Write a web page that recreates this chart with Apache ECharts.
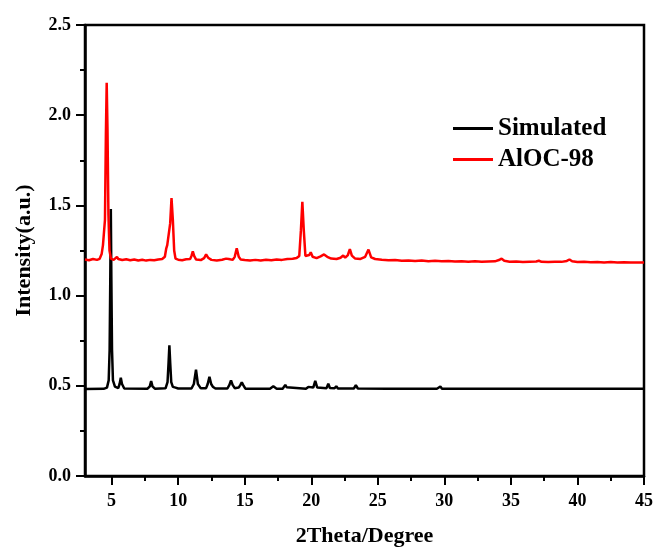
<!DOCTYPE html>
<html>
<head>
<meta charset="utf-8">
<title>XRD</title>
<script src="https://cdn.jsdelivr.net/npm/echarts@6/dist/echarts.min.js"></script>
<style>
  html, body { margin: 0; padding: 0; background: #fff; }
  #main { width: 657px; height: 552px; }
</style>
</head>
<body>
<div id="main"></div>
<script>
// x tick labels / minor ticks
let xMajor = [5, 10, 15, 20, 25, 30, 35, 40, 45];
let xMinor = [7.5, 12.5, 17.5, 22.5, 27.5, 32.5, 37.5, 42.5];
let seriesNames = ["Simulated", "AlOC-98"];

// Simulated pattern [2theta, intensity]
let simulated = [
  [3.0, 0.482], [4.4, 0.483], [4.65, 0.49], [4.78, 0.53], [4.85, 0.7], [4.9, 1.1], [4.94, 1.48],
  [4.98, 1.1], [5.03, 0.7], [5.1, 0.53], [5.25, 0.495], [5.5, 0.487], [5.6, 0.51], [5.69, 0.545],
  [5.78, 0.51], [5.95, 0.485], [7.7, 0.484], [7.87, 0.497], [7.97, 0.527], [8.07, 0.497],
  [8.25, 0.484], [9.05, 0.486], [9.2, 0.52], [9.28, 0.63], [9.34, 0.725], [9.4, 0.63],
  [9.48, 0.52], [9.6, 0.494], [9.8, 0.49], [10.0, 0.485], [11.0, 0.485], [11.18, 0.51],
  [11.34, 0.59], [11.48, 0.51], [11.7, 0.486], [12.1, 0.487], [12.22, 0.51], [12.35, 0.55],
  [12.48, 0.51], [12.6, 0.495], [12.8, 0.485], [13.7, 0.485], [13.85, 0.505], [13.97, 0.53],
  [14.09, 0.505], [14.25, 0.487], [14.55, 0.49], [14.68, 0.505], [14.78, 0.52], [14.88, 0.505],
  [15.05, 0.484], [16.9, 0.484], [17.05, 0.49], [17.15, 0.497], [17.25, 0.488], [17.4, 0.484],
  [17.85, 0.484], [17.97, 0.495], [18.05, 0.505], [18.15, 0.492], [18.3, 0.484], [19.6, 0.484],
  [19.78, 0.494], [19.88, 0.486], [20.15, 0.49], [20.3, 0.527], [20.45, 0.49], [20.6, 0.485],
  [21.15, 0.487], [21.28, 0.512], [21.4, 0.488], [21.75, 0.486], [21.88, 0.498], [22.0, 0.485],
  [23.2, 0.485], [23.35, 0.503], [23.5, 0.485], [25.7, 0.484], [25.8, 0.491], [25.9, 0.484],
  [27.5, 0.484], [29.2, 0.484], [29.32, 0.492], [29.44, 0.484], [29.58, 0.487], [29.7, 0.496],
  [29.82, 0.484], [31.0, 0.484], [32.8, 0.484], [32.9, 0.489], [33.0, 0.484], [34.0, 0.484],
  [34.9, 0.484], [35.0, 0.489], [35.1, 0.484], [36.5, 0.484], [37.7, 0.484], [37.82, 0.494],
  [37.95, 0.484], [40.0, 0.484], [42.5, 0.484], [45.0, 0.484]
];

// AlOC-98 measured pattern
let aloc98 = [
  [3.0, 1.200], [3.3, 1.196], [3.6, 1.203], [3.9, 1.198], [4.1, 1.204], [4.25, 1.23], [4.35, 1.28],
  [4.42, 1.29], [4.5, 1.42], [4.57, 1.90], [4.63, 2.18], [4.69, 1.92], [4.76, 1.45], [4.84, 1.25],
  [4.95, 1.205], [5.15, 1.198], [5.3, 1.202], [5.4, 1.215], [5.5, 1.203], [5.8, 1.197],
  [6.1, 1.201], [6.4, 1.196], [6.7, 1.200], [7.0, 1.195], [7.3, 1.199], [7.6, 1.194],
  [7.9, 1.198], [8.2, 1.196], [8.5, 1.200], [8.8, 1.203], [9.0, 1.215], [9.1, 1.26], [9.18, 1.28],
  [9.3, 1.27], [9.4, 1.40], [9.5, 1.54], [9.6, 1.42], [9.7, 1.25], [9.8, 1.205], [10.0, 1.199],
  [10.3, 1.196], [10.6, 1.201], [10.9, 1.203], [11.0, 1.22], [11.1, 1.245], [11.2, 1.22],
  [11.35, 1.200], [11.7, 1.197], [11.95, 1.208], [12.1, 1.228], [12.25, 1.21], [12.5, 1.198],
  [12.9, 1.195], [13.3, 1.199], [13.6, 1.205], [13.7, 1.21], [13.8, 1.203], [14.1, 1.198],
  [14.25, 1.215], [14.4, 1.262], [14.55, 1.215], [14.7, 1.200], [15.0, 1.197], [15.4, 1.194],
  [15.8, 1.198], [16.2, 1.195], [16.6, 1.199], [17.0, 1.196], [17.4, 1.200], [17.8, 1.198],
  [18.2, 1.203], [18.6, 1.204], [18.9, 1.208], [19.1, 1.22], [19.22, 1.36], [19.33, 1.52],
  [19.44, 1.36], [19.56, 1.22], [19.7, 1.212], [19.85, 1.225], [19.96, 1.24], [20.1, 1.215],
  [20.4, 1.208], [20.7, 1.218], [20.96, 1.228], [21.2, 1.215], [21.5, 1.205], [21.9, 1.203],
  [22.2, 1.21], [22.4, 1.222], [22.55, 1.21], [22.75, 1.225], [22.9, 1.258], [23.05, 1.222],
  [23.3, 1.205], [23.7, 1.203], [24.05, 1.215], [24.3, 1.255], [24.5, 1.212], [24.8, 1.203],
  [25.3, 1.199], [25.8, 1.196], [26.3, 1.197], [26.8, 1.193], [27.3, 1.195], [27.8, 1.192],
  [28.3, 1.194], [28.8, 1.191], [29.3, 1.193], [29.8, 1.190], [30.3, 1.192], [30.8, 1.189],
  [31.3, 1.191], [31.8, 1.188], [32.3, 1.190], [32.8, 1.187], [33.3, 1.189], [33.8, 1.190],
  [34.1, 1.197], [34.3, 1.205], [34.5, 1.193], [34.9, 1.188], [35.4, 1.189], [35.9, 1.186],
  [36.4, 1.188], [36.9, 1.189], [37.1, 1.193], [37.3, 1.187], [37.8, 1.186], [38.3, 1.188],
  [38.8, 1.187], [39.2, 1.192], [39.4, 1.200], [39.6, 1.190], [40.0, 1.186], [40.5, 1.187],
  [41.0, 1.185], [41.5, 1.186], [42.0, 1.184], [42.5, 1.186], [43.0, 1.184], [43.5, 1.185],
  [44.0, 1.183], [44.5, 1.184], [45.0, 1.183]
];

(function () {
  let font = "'Liberation Serif', 'Times New Roman', serif";
  let mychart = echarts.init(document.getElementById("main"));
  let option = {
    animation: false,
    backgroundColor: "#fff",
    grid: {
      left: 85,
      right: 13,
      top: 25,
      bottom: 75,
      show: true,
      borderColor: "#000",
      borderWidth: 2.5,
    },
    legend: {
      left: 453,
      top: 116,
      padding: 0,
      orient: "vertical",
      itemGap: 6,
      itemWidth: 40,
      itemHeight: 3,
      icon: "rect",
      textStyle: {
        fontFamily: font,
        fontWeight: "bold",
        fontSize: 25,
        lineHeight: 24,
        color: "#000",
      },
      data: seriesNames,
    },
    xAxis: [
      {
        type: "value",
        min: 3,
        max: 45,
        name: "2Theta/Degree",
        nameLocation: "middle",
        nameGap: 49,
        nameTextStyle: { fontFamily: font, fontWeight: "bold", fontSize: 22, color: "#000" },
        axisLine: { lineStyle: { color: "#000", width: 2.5 } },
        axisTick: { customValues: xMajor, length: 9, lineStyle: { width: 2 } },
        axisLabel: {
          customValues: xMajor,
          margin: 16,
          fontFamily: font,
          fontWeight: "bold",
          fontSize: 18,
          color: "#000",
        },
        splitLine: { show: false },
      },
      {
        // minor ticks
        type: "value",
        min: 3,
        max: 45,
        position: "bottom",
        axisLine: { show: false },
        axisTick: { customValues: xMinor, length: 5, lineStyle: { width: 2, color: "#000" } },
        axisLabel: { show: false },
        splitLine: { show: false },
      },
    ],
    yAxis: {
      type: "value",
      min: 0,
      max: 2.5,
      interval: 0.5,
      name: "Intensity(a.u.)",
      nameLocation: "middle",
      nameGap: 50,
      nameTextStyle: { fontFamily: font, fontWeight: "bold", fontSize: 22, color: "#000" },
      axisLine: { show: true, lineStyle: { color: "#000", width: 2.5 } },
      axisTick: { show: true, length: 9, lineStyle: { width: 2 } },
      minorTick: { show: true, splitNumber: 2, length: 5, lineStyle: { width: 2, color: "#000" } },
      axisLabel: {
        margin: 14,
        fontFamily: font,
        fontWeight: "bold",
        fontSize: 18,
        color: "#000",
        formatter: function (v) {
          return v.toFixed(1);
        },
      },
      splitLine: { show: false },
    },
    series: [
      {
        name: seriesNames[0],
        type: "line",
        xAxisIndex: 0,
        data: simulated,
        showSymbol: false,
        lineStyle: { color: "#000", width: 2.5 },
        itemStyle: { color: "#000" },
      },
      {
        name: seriesNames[1],
        type: "line",
        xAxisIndex: 0,
        data: aloc98,
        showSymbol: false,
        lineStyle: { color: "#ff0000", width: 2.5 },
        itemStyle: { color: "#ff0000" },
      },
    ],
  };
  mychart.setOption(option);
})();
</script>
</body>
</html>
